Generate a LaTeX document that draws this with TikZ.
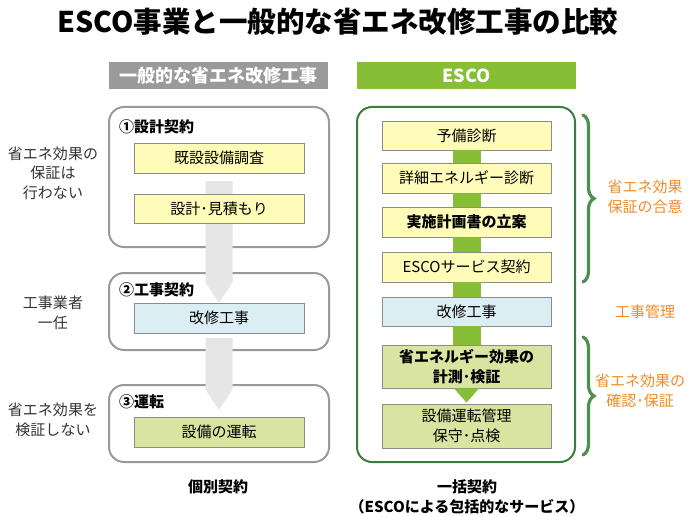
\documentclass[tikz,border=0pt]{standalone}
\usepackage{fontspec}
\setmainfont{Noto Sans CJK JP}
\usetikzlibrary{positioning,calc,decorations.pathreplacing}

\definecolor{escogreen}{HTML}{86BF36}
\definecolor{headgray}{HTML}{9A9A9A}
\definecolor{framegreen}{HTML}{3E7B3E}
\definecolor{bracegreen}{HTML}{4E8E4E}
\definecolor{boxyellow}{HTML}{FFFBB8}
\definecolor{boxblue}{HTML}{DBEEF4}
\definecolor{boxolive}{HTML}{D8E4A0}
\definecolor{boxline}{HTML}{8C8C8C}
\definecolor{labelorange}{HTML}{F08C26}
\definecolor{arrowgray}{HTML}{E6E6E6}
\definecolor{textgray}{HTML}{333333}

\tikzset{
  head/.style={minimum width=219pt, minimum height=27pt, inner sep=0pt,
    text=white, font=\fontsize{18}{20}\selectfont\bfseries},
  group/.style={draw=headgray, line width=2pt, rounded corners=15pt, fill=white,
    minimum width=220pt, inner sep=0pt},
  grouptitle/.style={anchor=west, inner sep=0pt, font=\fontsize{15}{18}\selectfont\bfseries},
  task/.style={draw=boxline, line width=0.8pt, minimum width=170pt, minimum height=30pt,
    inner sep=0pt, align=center, font=\fontsize{15}{19.5}\selectfont},
  side/.style={align=center, text=textgray, font=\fontsize{15}{19.5}\selectfont},
  note/.style={align=center, text=labelorange, font=\fontsize{15}{20}\selectfont},
  foot/.style={align=center, font=\fontsize{15}{20}\selectfont\bfseries},
  shaft/.style={draw=escogreen, line width=28pt},
  curly/.style={draw=bracegreen, line width=3.2pt, line cap=round,
    decorate, decoration={brace, amplitude=11pt}},
}

\begin{document}
\begin{tikzpicture}[x=1pt,y=-1pt]
    \useasboundingbox (0,0) rectangle (696,516);

    \node[font=\fontsize{28.5}{30}\selectfont\bfseries] (title) at (338,22)
        {ESCO事業と一般的な省エネ改修工事の比較};

    \node[head, fill=headgray]  (head-ippan) at (218.5,75.5) {一般的な省エネ改修工事};
    \node[head, fill=escogreen] (head-esco)  at (466.5,75.5) {ESCO};

    % left column: general retrofit
    \node[group, minimum height=140pt] (sekkei)   at (219,177)   {};
    \node[group, minimum height=77pt]  (kouji)    at (219,311.5) {};
    \node[group, minimum height=77pt]  (unten)    at (219,423.5) {};

    \node[grouptitle] (sekkei-t) at (119,127) {①設計契約};
    \node[grouptitle] (kouji-t)  at (119,290) {②工事契約};
    \node[grouptitle] (unten-t)  at (119,402) {③運転};

    \coordinate (g1) at (219,181);
    \coordinate (g2) at (219,338);
    \node[task, fill=boxblue]  (kaishu)    at (219,318)   {改修工事};
    \node[task, fill=boxolive] (unten-b)   at (219,432)   {設備の運転};

    \fill[arrowgray] ($(g1)+(-13.5,0)$) -- ($(g1)+(13.5,0)$)
        -- ($(kaishu.north)+(13.5,-20)$) -- (kaishu.north)
        -- ($(kaishu.north)+(-13.5,-20)$) -- cycle;
    \fill[arrowgray] ($(g2)+(-13.5,0)$) -- ($(g2)+(13.5,0)$)
        -- ($(unten-b.north)+(13.5,-27)$) -- ($(unten-b.north)+(0,-7)$)
        -- ($(unten-b.north)+(-13.5,-27)$) -- cycle;

    \node[task, fill=boxyellow] (chousa)    at (219,158)   {既設設備調査};
    \node[task, fill=boxyellow, minimum height=29pt] (mitsumori) at (219,208.5) {設計･見積もり};

    \node[side] (hoshou-nashi) at (53,173) {省エネ効果の\\保証は\\行わない};
    \node[side] (ichinin)      at (53,313) {工事業者\\一任};
    \node[side] (kenshou-nashi) at (53,420) {省エネ効果を\\検証しない};

    \node[foot] (kobetsu) at (218,487) {個別契約};

    % right column: ESCO
    \node[draw=framegreen, line width=2pt, rounded corners=15pt,
          minimum width=218pt, minimum height=355pt] (esco) at (466,284.5) {};

    \tikzset{task/.append style={minimum width=169pt}}
    \node[task, fill=boxyellow, minimum height=29pt] (yobi)    at (466.5,135.5) {予備診断};
    \node[task, fill=boxyellow] (shousai) at (466.5,178)   {詳細エネルギー診断};
    \node[task, fill=boxyellow, font=\fontsize{15}{19.5}\selectfont\bfseries]
                                (rian)    at (466.5,222)   {実施計画書の立案};
    \node[task, fill=boxyellow] (keiyaku) at (466.5,267)   {ESCOサービス契約};
    \node[task, fill=boxblue, minimum height=29pt] (kaishu2) at (466.5,311.5) {改修工事};
    \node[task, fill=boxolive, minimum height=43pt, font=\fontsize{15}{19.5}\selectfont\bfseries]
                                (keisoku) at (466.5,366.5) {省エネルギー効果の\\計測･検証};
    \node[task, fill=boxolive, minimum height=44pt] (kanri) at (466.5,426) {設備運転管理\\保守･点検};

    \draw[shaft] (yobi.south)    -- (shousai.north);
    \draw[shaft] (shousai.south) -- (rian.north);
    \draw[shaft] (rian.south)    -- (keiyaku.north);
    \draw[shaft] (keiyaku.south) -- (kaishu2.north);
    \draw[shaft] (kaishu2.south) -- (keisoku.north);
    \fill[escogreen] ($(keisoku.south)+(-12.5,0)$) -- ($(keisoku.south)+(12.5,0)$)
        -- ($(kanri.north)+(0,-1)$) -- cycle;

    \coordinate (b1-top) at (583,115);
    \coordinate (b1-bot) at (583,282);
    \coordinate (b2-top) at (583,337);
    \coordinate (b2-bot) at (583,455);
    \draw[curly] (b1-top) -- (b1-bot);
    \draw[curly] (b2-top) -- (b2-bot);

    \node[note] (goui)     at (645,197) {省エネ効果\\保証の合意};
    \node[note] (kanri-t)  at (645,312) {工事管理};
    \node[note] (kakunin)  at (640,391) {省エネ効果の\\確認･保証};

    \node[foot] (ikkatsu) at (467,497) {一括契約\\（ESCOによる包括的なサービス）};
\end{tikzpicture}
\end{document}
